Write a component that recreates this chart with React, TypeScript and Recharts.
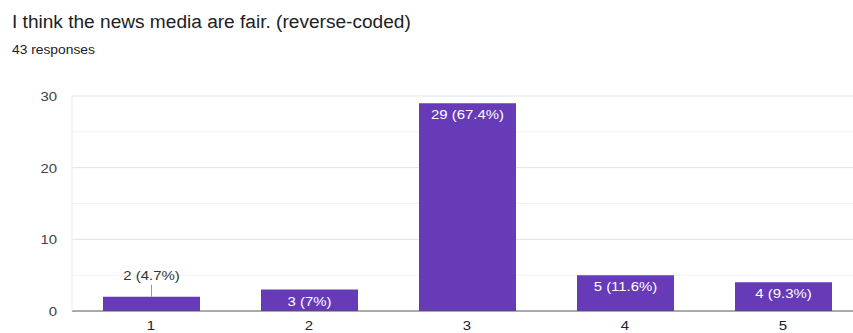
import React from "react";
import { BarChart, Bar, XAxis, YAxis, CartesianGrid, LabelList } from "recharts";

const categories = ["1", "2", "3", "4", "5"];
const counts = [2, 3, 29, 5, 4];
const yTicks = [0, 10, 20, 30];
const minorLines = [5, 15, 25];
const majorLines = [10, 20, 30];
const title = "I think the news media are fair. (reverse-coded)";
const subtitle = "43 responses";

const total = counts.reduce((a, b) => a + b, 0);
const data = categories.map((c, i) => ({ name: c, value: counts[i] }));

const pct = (v: number) => {
  const p = Math.round((v / total) * 1000) / 10;
  return `${v} (${Number.isInteger(p) ? p.toFixed(0) : p.toFixed(1)}%)`;
};

const FONT = "'Liberation Sans', Arial, Helvetica, sans-serif";
const SX = 1.15; // horizontal stretch of the small lettering
const TITLE_SX = 1.06;

const StretchText = ({ x, y, anchor, fill, size, children }: any) => (
  <text
    transform={`translate(${x},${y}) scale(${SX},1)`}
    textAnchor={anchor}
    fill={fill}
    fontSize={size}
    fontFamily={FONT}
  >
    {children}
  </text>
);

// Value label: white text inside tall-enough bars, above with a leader line otherwise
const BarValueLabel = (props: any) => {
  const { x, y, width, height, value } = props;
  const cx = x + width / 2;
  const text = pct(value);
  if (height < 20) {
    return (
      <g>
        <line x1={cx} x2={cx} y1={y - 12} y2={y} stroke="#999" strokeWidth={1} />
        <StretchText x={cx} y={y - 17} anchor="middle" fill="#333" size={13}>
          {text}
        </StretchText>
      </g>
    );
  }
  return (
    <StretchText x={cx} y={y + 16} anchor="middle" fill="#fff" size={13}>
      {text}
    </StretchText>
  );
};

const XTick = (props: any) => {
  const { x, payload } = props;
  return (
    <StretchText x={x} y={330} anchor="middle" fill="#222" size={13}>
      {payload.value}
    </StretchText>
  );
};

const YTick = (props: any) => {
  const { y, payload } = props;
  return (
    <StretchText x={57} y={y + 5} anchor="end" fill="#444" size={13}>
      {payload.value}
    </StretchText>
  );
};

export default function App() {
  return (
    <div
      style={{
        position: "absolute",
        left: 0,
        top: 0,
        width: 853,
        height: 333,
        overflow: "hidden",
        background: "#fff",
        fontFamily: FONT,
      }}
    >
      <div
        style={{
          position: "absolute",
          left: 12,
          top: 12,
          fontSize: 18,
          lineHeight: "20px",
          color: "#202124",
          whiteSpace: "nowrap",
          transform: `scaleX(${TITLE_SX})`,
          transformOrigin: "left top",
        }}
      >
        {title}
      </div>
      <div
        style={{
          position: "absolute",
          left: 12,
          top: 43,
          fontSize: 12,
          lineHeight: "14px",
          color: "#202124",
          whiteSpace: "nowrap",
          transform: `scaleX(${SX})`,
          transformOrigin: "left top",
        }}
      >
        {subtitle}
      </div>
      <div style={{ position: "absolute", left: 0, top: 0 }}>
        <BarChart
          width={880}
          height={333}
          data={data}
          margin={{ top: 96, right: 18, bottom: 0, left: 0 }}
        >
          <CartesianGrid horizontal vertical={false} stroke="#f2f2f2" horizontalValues={minorLines} />
          <CartesianGrid horizontal vertical={false} stroke="#e3e3e3" horizontalValues={majorLines} />
          <XAxis
            dataKey="name"
            tickLine={false}
            axisLine={{ stroke: "#555", strokeWidth: 1 }}
            tick={<XTick />}
            height={22}
          />
          <YAxis
            domain={[0, 30]}
            ticks={yTicks}
            width={72}
            tickLine={false}
            axisLine={{ stroke: "#ececec" }}
            tick={<YTick />}
          />
          <Bar dataKey="value" fill="#673ab7" barSize={97} isAnimationActive={false}>
            <LabelList dataKey="value" content={BarValueLabel} />
          </Bar>
        </BarChart>
      </div>
    </div>
  );
}
